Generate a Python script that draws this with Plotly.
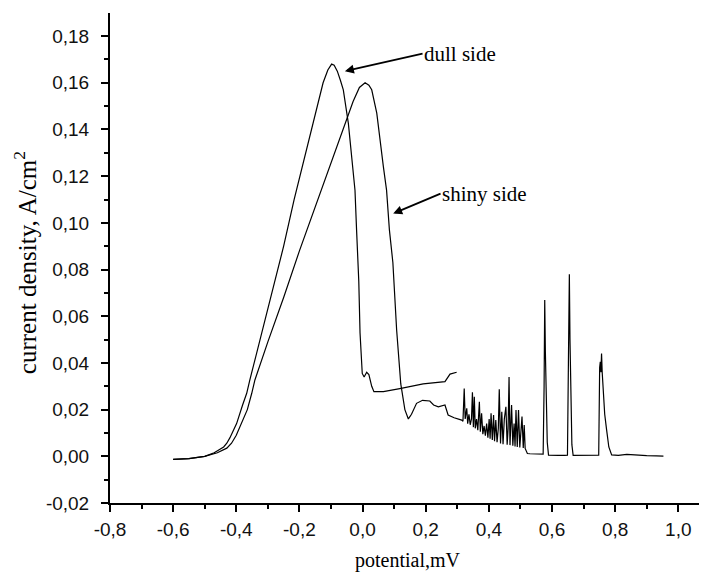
import plotly.graph_objects as go

# ---- data ----
dull_x = [-0.600, -0.550, -0.500, -0.470, -0.440, -0.430, -0.420, -0.399, -0.380, -0.367, -0.357,
          -0.330, -0.293, -0.250, -0.217, -0.180, -0.150, -0.125, -0.110, -0.102, -0.098, -0.090,
          -0.080, -0.070, -0.061, -0.045, -0.035, -0.024, -0.019, -0.012, -0.008, -0.003, -0.001,
          0.005, 0.013, 0.020, 0.029, 0.036, 0.066, 0.118, 0.192, 0.261, 0.277, 0.298]
dull_y = [-0.0013, -0.0010, 0.0000, 0.0015, 0.0040, 0.0056, 0.0080, 0.0140, 0.0220, 0.0270, 0.0327,
          0.0470, 0.0670, 0.0900, 0.1098, 0.1300, 0.1470, 0.1600, 0.1655, 0.1675, 0.1680, 0.1675,
          0.1650, 0.1610, 0.1570, 0.1426, 0.1280, 0.1140, 0.0970, 0.0750, 0.0528, 0.0400, 0.0355,
          0.0340, 0.0360, 0.0350, 0.0300, 0.0277, 0.0277, 0.0290, 0.0310, 0.0320, 0.0352, 0.0360]

shiny_x = [-0.600, -0.550, -0.500, -0.460, -0.430, -0.415, -0.400, -0.383, -0.365, -0.351, -0.341,
           -0.300, -0.250, -0.200, -0.150, -0.100, -0.060, -0.030, -0.010, 0.008, 0.020, 0.029,
           0.045, 0.055, 0.066, 0.076, 0.085, 0.096, 0.108, 0.121, 0.134, 0.145, 0.155, 0.171,
           0.190, 0.213, 0.225, 0.240, 0.261, 0.271, 0.290,
           0.314, 0.318, 0.322, 0.325, 0.330, 0.333, 0.337, 0.341, 0.345, 0.348, 0.351, 0.354,
           0.357, 0.361, 0.365, 0.370, 0.373, 0.377, 0.381, 0.385, 0.389, 0.393, 0.397, 0.401,
           0.404, 0.407, 0.411, 0.415, 0.418, 0.422, 0.426, 0.430, 0.433, 0.437, 0.441, 0.445,
           0.449, 0.454, 0.458, 0.461, 0.464, 0.467, 0.470, 0.472, 0.476, 0.480, 0.483, 0.486,
           0.490, 0.494, 0.498, 0.502, 0.505, 0.509, 0.512, 0.515, 0.518, 0.522,
           0.530, 0.550, 0.565, 0.572, 0.575, 0.577, 0.579, 0.582, 0.585, 0.589, 0.600, 0.620,
           0.640, 0.649, 0.652, 0.655, 0.657, 0.660, 0.663, 0.667, 0.690, 0.720, 0.748, 0.751,
           0.753, 0.755, 0.757, 0.759, 0.762, 0.767, 0.773, 0.780, 0.789, 0.810, 0.837, 0.870,
           0.900, 0.930, 0.953]
shiny_y = [-0.0013, -0.0010, 0.0000, 0.0015, 0.0035, 0.0056, 0.0090, 0.0140, 0.0200, 0.0270, 0.0327,
           0.0490, 0.0680, 0.0880, 0.1070, 0.1260, 0.1410, 0.1520, 0.1580, 0.1600, 0.1590, 0.1570,
           0.1470, 0.1350, 0.1240, 0.1140, 0.0970, 0.0830, 0.0540, 0.0310, 0.0200, 0.0160, 0.0180, 0.0227,
           0.0240, 0.0237, 0.0220, 0.0212, 0.0220, 0.0177, 0.0165,
           0.0155, 0.0150, 0.0290, 0.0160, 0.0206, 0.0140, 0.0180, 0.0135, 0.0160, 0.0274, 0.0125, 0.0255,
           0.0120, 0.0160, 0.0112, 0.0234, 0.0105, 0.0184, 0.0095, 0.0130, 0.0088, 0.0140, 0.0080, 0.0160,
           0.0075, 0.0184, 0.0070, 0.0177, 0.0065, 0.0155, 0.0060, 0.0120, 0.0287, 0.0055, 0.0191, 0.0052,
           0.0160, 0.0212, 0.0050, 0.0120, 0.0340, 0.0048, 0.0150, 0.0220, 0.0045, 0.0140, 0.0042, 0.0198,
           0.0040, 0.0198, 0.0038, 0.0120, 0.0170, 0.0036, 0.0134, 0.0034, 0.0025, 0.0012,
           0.0011, 0.0010, 0.0009, 0.0009, 0.0300, 0.0670, 0.0450, 0.0200, 0.0060, 0.0005, 0.0004, 0.0004,
           0.0004, 0.0005, 0.0400, 0.0780, 0.0500, 0.0200, 0.0050, 0.0004, 0.0004, 0.0004, 0.0005, 0.0380,
           0.0405, 0.0360, 0.0440, 0.0360, 0.0284, 0.0180, 0.0113, 0.0040, 0.0006, 0.0004, 0.0008, 0.0004,
           0.0003, 0.0002, 0.0001]

x_tickvals = [-0.8, -0.6, -0.4, -0.2, 0.0, 0.2, 0.4, 0.6, 0.8, 1.0]
x_ticktext = ["-0,8", "-0,6", "-0,4", "-0,2", "0,0", "0,2", "0,4", "0,6", "0,8", "1,0"]
y_tickvals = [-0.02, 0.00, 0.02, 0.04, 0.06, 0.08, 0.10, 0.12, 0.14, 0.16, 0.18]
y_ticktext = ["-0,02", "0,00", "0,02", "0,04", "0,06", "0,08", "0,10", "0,12", "0,14", "0,16", "0,18"]
x_title = "potential,mV"
y_title = "current density, A/cm<sup>2</sup>"

fig = go.Figure()
line_style = dict(color="black", width=1.2)
fig.add_trace(go.Scatter(x=dull_x, y=dull_y, mode="lines", line=line_style,
                         name="dull side", showlegend=False))
fig.add_trace(go.Scatter(x=shiny_x, y=shiny_y, mode="lines", line=line_style,
                         name="shiny side", showlegend=False))

serif = "Liberation Serif, Times New Roman, serif"
sans = "Liberation Sans, Arial, sans-serif"

fig.add_annotation(x=-0.056, y=0.165, ax=0.190, ay=0.1725, xref="x", yref="y",
                   axref="x", ayref="y", text="dull side", showarrow=True,
                   arrowhead=2, arrowsize=1.0, arrowwidth=1.8, arrowcolor="black",
                   xanchor="left", yanchor="middle", borderpad=0,
                   font=dict(family=serif, size=21, color="black"))
fig.add_annotation(x=0.097, y=0.104, ax=0.247, ay=0.1125, xref="x", yref="y",
                   axref="x", ayref="y", text="shiny side", showarrow=True,
                   arrowhead=2, arrowsize=1.0, arrowwidth=1.8, arrowcolor="black",
                   xanchor="left", yanchor="middle", borderpad=0,
                   font=dict(family=serif, size=21, color="black"))

# axis titles placed as paper-anchored text
fig.add_annotation(x=0.499, y=-0.117, xref="paper", yref="paper", text=x_title,
                   showarrow=False, xanchor="center", yanchor="middle",
                   font=dict(family=serif, size=20, color="black"))
fig.add_annotation(x=-0.142, y=0.49, xref="paper", yref="paper", text=y_title,
                   showarrow=False, xanchor="center", yanchor="middle", textangle=-90,
                   font=dict(family=serif, size=25, color="black"))

fig.update_layout(
    width=699, height=568,
    margin=dict(l=102, r=0, t=5, b=73),
    plot_bgcolor="white", paper_bgcolor="white",
    showlegend=False,
)
fig.update_xaxes(
    range=[-0.8, 1.091], showgrid=False, zeroline=False,
    showline=True, linecolor="black", linewidth=2,
    ticks="outside", ticklen=7, tickwidth=2, tickcolor="black",
    tickvals=x_tickvals, ticktext=x_ticktext, ticklabelstandoff=1,
    tickfont=dict(family=sans, size=19, color="#111"),
    minor=dict(tickvals=[-0.7, -0.5, -0.3, -0.1, 0.1, 0.3, 0.5, 0.7, 0.9],
               ticks="outside", ticklen=4, tickwidth=2, tickcolor="black"),
)
fig.update_yaxes(
    range=[-0.02, 0.1899], showgrid=False, zeroline=False,
    showline=True, linecolor="black", linewidth=2,
    ticks="outside", ticklen=7, tickwidth=2, tickcolor="black",
    tickvals=y_tickvals, ticktext=y_ticktext, ticklabelstandoff=8,
    tickfont=dict(family=sans, size=19, color="#111"),
    minor=dict(tickvals=[-0.01, 0.01, 0.03, 0.05, 0.07, 0.09, 0.11, 0.13, 0.15, 0.17],
               ticks="outside", ticklen=4, tickwidth=2, tickcolor="black"),
)

fig.write_html("out.html")
